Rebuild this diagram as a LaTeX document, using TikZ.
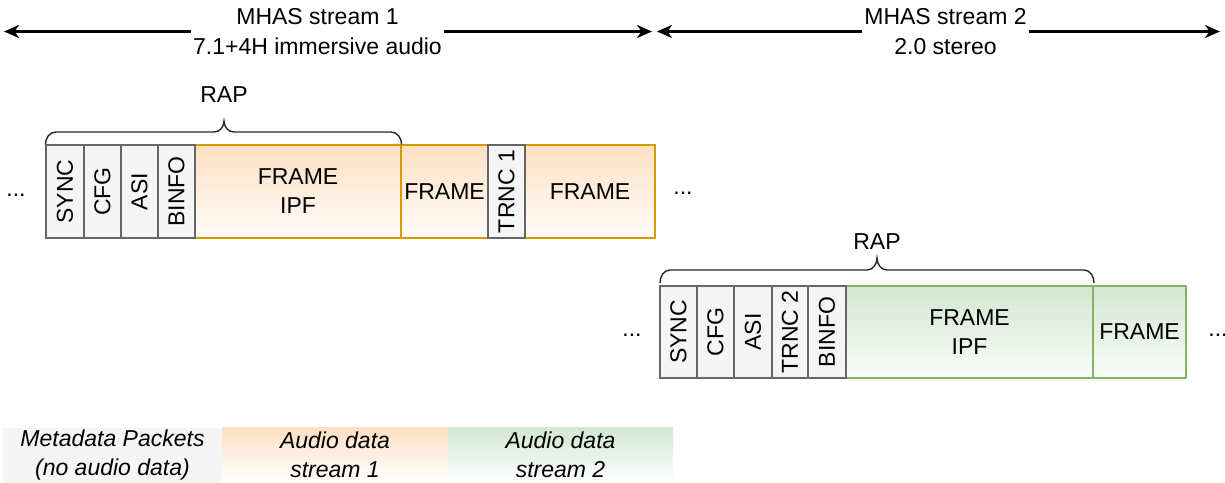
\documentclass[tikz,border=0pt]{standalone}
\usepackage{fontspec}
\setmainfont{Liberation Sans}
\usetikzlibrary{arrows.meta}
\definecolor{metafill}{HTML}{F5F5F5}
\definecolor{metadraw}{HTML}{666666}
\definecolor{orfill}{HTML}{FDE0C4}
\definecolor{orbot}{HTML}{FFFCF8}
\definecolor{ordraw}{HTML}{D79B00}
\definecolor{grfill}{HTML}{D3E7D1}
\definecolor{grbot}{HTML}{FAFCFA}
\definecolor{grdraw}{HTML}{82B366}
\begin{document}
\begin{tikzpicture}[x=1pt,y=-1pt,
  every node/.style={font=\fontsize{23}{29}\selectfont, inner sep=0pt, align=center},
  meta/.style={draw=metadraw, fill=metafill, line width=1.2pt},
  aud1/.style={draw=ordraw, top color=orfill, bottom color=orbot, line width=1.2pt},
  aud2/.style={draw=grdraw, top color=grfill, bottom color=grbot, line width=1.2pt},
  row1/.style={minimum height=93pt},
  row2/.style={minimum height=92pt},
  toplabel/.style={fill=white, inner xsep=2pt, inner ysep=1pt, font=\fontsize{23}{30}\selectfont},
  arr/.style={line width=2.4pt, -{Stealth[length=15pt,width=13pt,inset=4.5pt]}},
  bracepath/.style={line width=1.4pt, draw=black!85},
  legmeta/.style={fill=metafill, minimum height=55pt, font=\fontsize{23}{29}\selectfont\itshape},
  legor/.style={top color=orfill, bottom color=white, minimum height=55pt, font=\fontsize{23}{29}\selectfont\itshape},
  leggr/.style={top color=grfill, bottom color=white, minimum height=55pt, font=\fontsize{23}{29}\selectfont\itshape}
]
\useasboundingbox (0,0) rectangle (1225,482);

% ---------- top arrows ----------
\coordinate (a1l) at (4,31.5);
\coordinate (a1r) at (652,31.5);
\coordinate (a2l) at (657,31.5);
\coordinate (a2r) at (1220,31.5);
\node[toplabel] (lab1) at (317.5,31.5) {MHAS stream 1\\7.1+4H immersive audio};
\node[toplabel] (lab2) at (945.5,31.5) {MHAS stream 2\\2.0 stereo};
\draw[arr] (lab1.west) -- (a1l);
\draw[arr] (lab1.east) -- (a1r);
\draw[arr] (lab2.west) -- (a2l);
\draw[arr] (lab2.east) -- (a2r);

% ---------- stream 1 ----------
\node[aud1,row1,minimum width=206pt] (ipf1) at (298,191.5) {FRAME\\IPF};
\node[aud1,row1,minimum width=87pt] (frame1a) at (444.5,191.5) {FRAME};
\node[aud1,row1,minimum width=130pt] (frame1b) at (590,191.5) {FRAME};
\node[meta,row1,minimum width=38pt] (sync1) at (65,191.5) {\rotatebox{90}{SYNC}};
\node[meta,row1,minimum width=37pt] (cfg1) at (102.5,191.5) {\rotatebox{90}{CFG}};
\node[meta,row1,minimum width=37pt] (asi1) at (139.5,191.5) {\rotatebox{90}{ASI}};
\node[meta,row1,minimum width=37pt] (binfo1) at (176.5,191.5) {\rotatebox{90}{BINFO}};
\node[meta,row1,minimum width=37pt] (trnc1) at (506.5,191.5) {\rotatebox{90}{TRNC 1}};

\node (dots1) at (16,195) {...};
\node (dots2) at (683,193) {...};

\node (rap1) at (224,95) {RAP};
\draw[bracepath] (sync1.north west) to[out=90,in=180] (56,132) -- (214,132)
  to[out=0,in=-90] (224,121) to[out=-90,in=180] (234,132) -- (391,132)
  to[out=0,in=90] (ipf1.north east);

% ---------- stream 2 ----------
\node[aud2,row2,minimum width=247pt] (ipf2) at (969.5,332) {FRAME\\IPF};
\node[aud2,row2,minimum width=93pt] (frame2) at (1139.5,332) {FRAME};
\node[meta,row2,minimum width=37pt] (sync2) at (678.5,332) {\rotatebox{90}{SYNC}};
\node[meta,row2,minimum width=37pt] (cfg2) at (715.5,332) {\rotatebox{90}{CFG}};
\node[meta,row2,minimum width=38pt] (asi2) at (753,332) {\rotatebox{90}{ASI}};
\node[meta,row2,minimum width=36pt] (trnc2) at (790,332) {\rotatebox{90}{TRNC 2}};
\node[meta,row2,minimum width=38pt] (binfo2) at (827,332) {\rotatebox{90}{BINFO}};

\node (dots3) at (632,335) {...};
\node (dots4) at (1218,335) {...};

\node (rap2) at (877,242) {RAP};
\draw[bracepath] (660,283) to[out=90,in=180] (670,270) -- (867,270)
  to[out=0,in=-90] (877,258) to[out=-90,in=180] (887,270) -- (1084,270)
  to[out=0,in=90] (1094,283);

% ---------- legend ----------
\node[legmeta,minimum width=219pt] (leg1) at (112.5,455) {Metadata Packets\\(no audio data)};
\node[legor,minimum width=226pt] (leg2) at (335,455) {Audio data\\stream 1};
\node[leggr,minimum width=225pt] (leg3) at (560.5,455) {Audio data\\stream 2};
\end{tikzpicture}
\end{document}
